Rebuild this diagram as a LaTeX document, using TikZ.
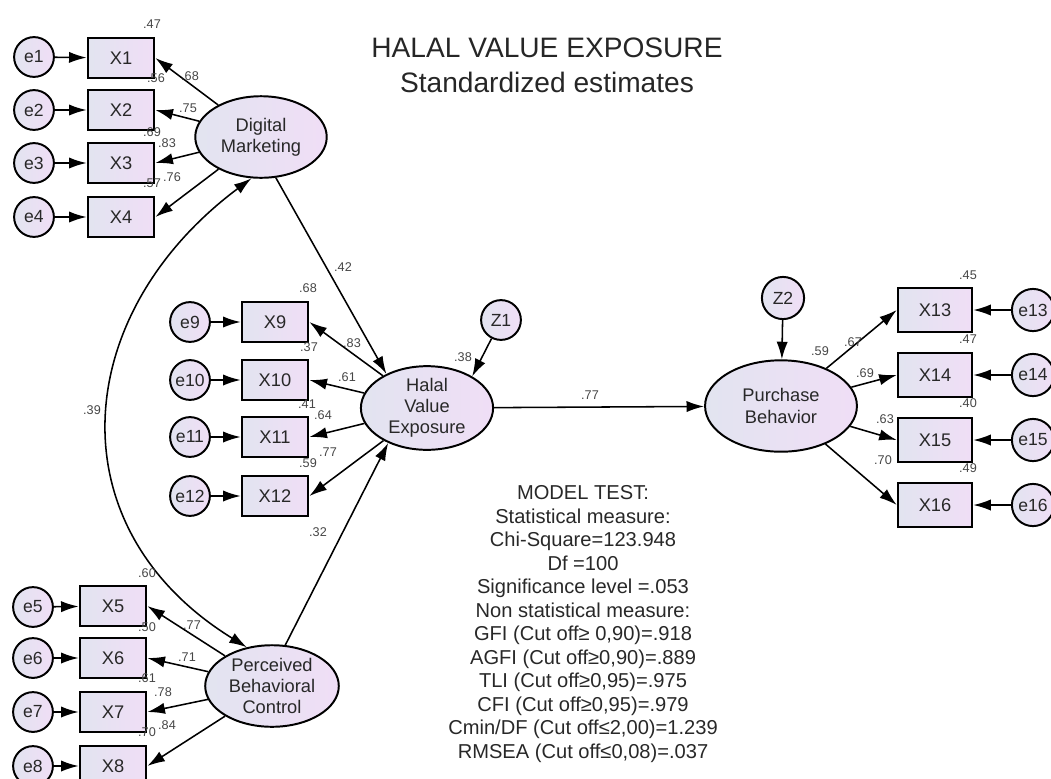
\documentclass[tikz,border=0pt]{standalone}
\usepackage{fontspec}
\setmainfont{Liberation Sans}
\usetikzlibrary{arrows.meta, shapes.geometric}
\definecolor{shadeL}{RGB}{226,228,240}
\definecolor{shadeR}{RGB}{240,222,246}
\definecolor{txtgray}{RGB}{40,40,40}
\definecolor{estgray}{RGB}{70,70,70}
\tikzset{>={Latex[length=12.5pt,width=8pt]}}
\tikzset{
  obs/.style={draw, line width=1.4pt, rectangle, left color=shadeL, right color=shadeR,
    minimum width=47.5pt, minimum height=28.3pt, inner sep=0pt,
    font=\fontsize{13}{15}\selectfont, text=txtgray},
  obsr/.style={obs, minimum width=53pt, minimum height=31pt},
  err/.style={draw, line width=1.4pt, circle, left color=shadeL, right color=shadeR,
    minimum size=28.3pt, inner sep=0pt, font=\fontsize{12.5}{14}\selectfont, text=txtgray},
  errr/.style={err, minimum size=30pt},
  lat/.style={draw, line width=1.4pt, ellipse, left color=shadeL, right color=shadeR,
    inner sep=-2pt, align=center, font=\fontsize{13}{15}\selectfont, text=txtgray},
  arr/.style={line width=1.1pt, ->},
  est/.style={font=\fontsize{9}{10}\selectfont, text=estgray, inner sep=0pt}
}

\begin{document}
\begin{tikzpicture}[x=0.025cm, y=-0.025cm]
\useasboundingbox (0,0) rectangle (1051,778);

\node[align=center, font=\fontsize{20}{24.8}\selectfont, text=black!85] (title) at (547,65)
  {HALAL VALUE EXPOSURE\\Standardized estimates};

% latent variables
\node[lat, minimum width=93.5pt, minimum height=58pt] (dm) at (261,137) {Digital\\Marketing};
\node[lat, minimum width=94pt, minimum height=59.5pt] (hve) at (427,408) {Halal\\Value\\Exposure};
\node[lat, minimum width=95pt, minimum height=58pt] (pbc) at (272,686) {Perceived\\Behavioral\\Control};
\node[lat, minimum width=108pt, minimum height=65pt] (pb) at (781,406) {Purchase\\Behavior};
\node[err] (z1) at (501,320) {Z1};
\node[errr] (z2) at (783,298) {Z2};

% indicators
\node[obs] (x1) at (121,58) {X1};
\node[obs] (x2) at (121,110) {X2};
\node[obs] (x3) at (121,163) {X3};
\node[obs] (x4) at (121,217) {X4};
\node[obs] (x5) at (113,606) {X5};
\node[obs] (x6) at (113,658) {X6};
\node[obs] (x7) at (113,712) {X7};
\node[obs] (x8) at (113,766) {X8};
\node[obs] (x9) at (275,322) {X9};
\node[obs] (x10) at (275,380) {X10};
\node[obs] (x11) at (275,437) {X11};
\node[obs] (x12) at (275,496) {X12};
\node[obsr] (x13) at (935,310) {X13};
\node[obsr] (x14) at (935,375) {X14};
\node[obsr] (x15) at (935,440) {X15};
\node[obsr] (x16) at (935,505) {X16};

% errors
\node[err] (e1) at (34,57) {e1};
\node[err] (e2) at (34,110) {e2};
\node[err] (e3) at (34,163) {e3};
\node[err] (e4) at (34,217) {e4};
\node[err] (e5) at (33,607) {e5};
\node[err] (e6) at (33,658) {e6};
\node[err] (e7) at (33,712) {e7};
\node[err] (e8) at (33,766) {e8};
\node[err] (e9) at (190,322) {e9};
\node[err] (e10) at (190,380) {e10};
\node[err] (e11) at (190,437) {e11};
\node[err] (e12) at (190,496) {e12};
\node[errr] (e13) at (1033,310) {e13};
\node[errr] (e14) at (1033,375) {e14};
\node[errr] (e15) at (1033,440) {e15};
\node[errr] (e16) at (1033,505) {e16};

\draw[arr] (e1) -- (x1);
\draw[arr] (e2) -- (x2);
\draw[arr] (e3) -- (x3);
\draw[arr] (e4) -- (x4);
\draw[arr] (e5) -- (x5);
\draw[arr] (e6) -- (x6);
\draw[arr] (e7) -- (x7);
\draw[arr] (e8) -- (x8);
\draw[arr] (e9) -- (x9);
\draw[arr] (e10) -- (x10);
\draw[arr] (e11) -- (x11);
\draw[arr] (e12) -- (x12);
\draw[arr] (e13) -- (x13);
\draw[arr] (e14) -- (x14);
\draw[arr] (e15) -- (x15);
\draw[arr] (e16) -- (x16);

% loadings
\draw[arr] (dm) -- (x1.east);
\draw[arr] (dm) -- (x2.east);
\draw[arr] (dm) -- (x3.east);
\draw[arr] (dm) -- (x4.east);
\draw[arr] (pbc) -- (x5.east);
\draw[arr] (pbc) -- (x6.east);
\draw[arr] (pbc) -- (x7.east);
\draw[arr] (pbc) -- (x8.east);
\draw[arr] (hve) -- (x9.east);
\draw[arr] (hve) -- (x10.east);
\draw[arr] (hve) -- (x11.east);
\draw[arr] (hve) -- (x12.east);
\draw[arr] (pb) -- (x13.west);
\draw[arr] (pb) -- (x14.west);
\draw[arr] (pb) -- (x15.west);
\draw[arr] (pb) -- (x16.west);

% structural paths
\draw[arr] (dm.290) -- (hve.140);
\draw[arr] (pbc.72) -- (hve.222);
\draw[arr] (hve) -- (pb);
\draw[arr] (z1) -- (hve.35);
\draw[arr] (z2) -- (pb);
\draw[line width=1.1pt, <->] (dm.257) .. controls +(-182,136) and +(-193,-119) .. (pbc.123);

% estimates
\node[est] (r1) at (152,24) {.47};
\node[est] (l1) at (190,76) {.68};
\node[est] (r2) at (156,78) {.56};
\node[est] (l2) at (188,108) {.75};
\node[est] (r3) at (152,132) {.69};
\node[est] (l3) at (167,143) {.83};
\node[est] (r4) at (152,183) {.57};
\node[est] (l4) at (172,177) {.76};
\node[est] (r5) at (147,573) {.60};
\node[est] (l5) at (192,625) {.77};
\node[est] (r6) at (147,627) {.50};
\node[est] (l6) at (187,657) {.71};
\node[est] (r7) at (147,678) {.61};
\node[est] (l7) at (163,692) {.78};
\node[est] (r8) at (147,732) {.70};
\node[est] (l8) at (167,725) {.84};
\node[est] (r9) at (308,288) {.68};
\node[est] (l9) at (352,343) {.83};
\node[est] (r10) at (309,347) {.37};
\node[est] (l10) at (347,377) {.61};
\node[est] (r11) at (307,404) {.41};
\node[est] (l11) at (323,415) {.64};
\node[est] (r12) at (308,463) {.59};
\node[est] (l12) at (328,452) {.77};
\node[est] (r13) at (968,275) {.45};
\node[est] (l13) at (853,342) {.67};
\node[est] (r14) at (968,339) {.47};
\node[est] (l14) at (865,373) {.69};
\node[est] (r15) at (968,403) {.40};
\node[est] (l15) at (885,419) {.63};
\node[est] (r16) at (968,468) {.49};
\node[est] (l16) at (883,460) {.70};
\node[est] (b1) at (343,267) {.42};
\node[est] (b2) at (318,532) {.32};
\node[est] (b3) at (590,395) {.77};
\node[est] (rh) at (463,357) {.38};
\node[est] (rp) at (820,351) {.59};
\node[est] (cv) at (92,410) {.39};

% fit statistics
\node[align=center, font=\fontsize{14.3}{16.7}\selectfont, text=txtgray] (mt) at (583,624)
  {MODEL TEST:\\Statistical measure:\\Chi-Square=123.948\\Df =100\\Significance level =.053\\
   Non statistical measure:\\GFI (Cut off≥ 0,90)=.918\\AGFI (Cut off≥0,90)=.889\\
   TLI (Cut off≥0,95)=.975\\CFI (Cut off≥0,95)=.979\\Cmin/DF (Cut off≤2,00)=1.239\\
   RMSEA (Cut off≤0,08)=.037};
\end{tikzpicture}
\end{document}
